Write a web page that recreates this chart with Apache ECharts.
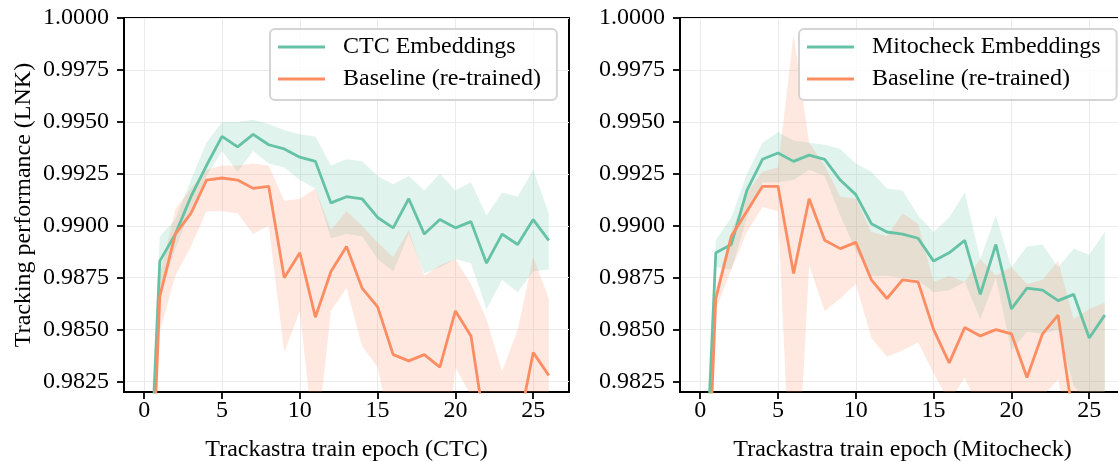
<!DOCTYPE html>
<html lang="en">
<head>
    <meta charset="UTF-8">
    <title>Tracking performance</title>
    <script src="https://cdn.jsdelivr.net/npm/echarts@6/dist/echarts.min.js"></script>
    <style>
        html, body { margin: 0; padding: 0; background: #fff; }
        #main { width: 1118px; height: 462px; }
    </style>
</head>
<body>
<div id="main"></div>
<script>
    var epochs = [0, 1, 2, 3, 4, 5, 6, 7, 8, 9, 10, 11, 12, 13, 14, 15, 16, 17, 18, 19, 20, 21, 22, 23, 24, 25, 26]
    var xTicks = [0, 5, 10, 15, 20, 25]
    var yTicks = [0.9825, 0.985, 0.9875, 0.99, 0.9925, 0.995, 0.9975, 1.0]

    // left panel: CTC
    var ctcMean = [0.9710, 0.9883, 0.9896, 0.9914, 0.9929, 0.9943, 0.9938, 0.9944, 0.9939, 0.9937, 0.9933, 0.9931, 0.9911, 0.9914, 0.9913, 0.9904, 0.9899, 0.9913, 0.9896, 0.9903, 0.9899, 0.9902, 0.9882, 0.9896, 0.9891, 0.9903, 0.9893]
    var ctcUpper = [0.9740, 0.9895, 0.9903, 0.9922, 0.9940, 0.9950, 0.9950, 0.9951, 0.9949, 0.9946, 0.9944, 0.9943, 0.9929, 0.9932, 0.9931, 0.9924, 0.9920, 0.9924, 0.9917, 0.9925, 0.9917, 0.9921, 0.9905, 0.9916, 0.9914, 0.9927, 0.9906]
    var ctcLower = [0.9680, 0.9866, 0.9889, 0.9908, 0.9924, 0.9936, 0.9926, 0.9936, 0.9930, 0.9928, 0.9922, 0.9918, 0.9894, 0.9896, 0.9895, 0.9884, 0.9878, 0.9896, 0.9877, 0.9880, 0.9884, 0.9882, 0.9860, 0.9874, 0.9868, 0.9878, 0.9879]
    var baseLMean = [0.9682, 0.9866, 0.9896, 0.9906, 0.9922, 0.9923, 0.9922, 0.9918, 0.9919, 0.9875, 0.9887, 0.9856, 0.9878, 0.9890, 0.9870, 0.9861, 0.9838, 0.9835, 0.9838, 0.9832, 0.9859, 0.9847, 0.9798, 0.9790, 0.9801, 0.9839, 0.9828]
    var baseLUpper = [0.9720, 0.9876, 0.9908, 0.9918, 0.9927, 0.9929, 0.9929, 0.9930, 0.9929, 0.9912, 0.9913, 0.9918, 0.9898, 0.9907, 0.9900, 0.9892, 0.9885, 0.9898, 0.9876, 0.9881, 0.9884, 0.9872, 0.9855, 0.9830, 0.9850, 0.9885, 0.9865]
    var baseLLower = [0.9640, 0.9849, 0.9876, 0.9890, 0.9907, 0.9907, 0.9906, 0.9896, 0.9900, 0.9839, 0.9859, 0.9790, 0.9859, 0.9870, 0.9842, 0.9832, 0.9795, 0.9790, 0.9790, 0.9760, 0.9832, 0.9818, 0.9770, 0.9760, 0.9770, 0.9790, 0.9780]

    // right panel: Mitocheck
    var mitoMean = [0.9715, 0.9887, 0.9891, 0.9917, 0.9932, 0.9935, 0.9931, 0.9934, 0.9932, 0.9922, 0.9915, 0.9901, 0.9897, 0.9896, 0.9894, 0.9883, 0.9887, 0.9893, 0.9867, 0.9891, 0.9860, 0.9870, 0.9869, 0.9864, 0.9867, 0.9846, 0.9857]
    var mitoUpper = [0.9750, 0.9893, 0.9904, 0.9925, 0.9940, 0.9945, 0.9941, 0.9940, 0.9939, 0.9937, 0.9930, 0.9926, 0.9918, 0.9917, 0.9905, 0.9897, 0.9904, 0.9916, 0.9884, 0.9905, 0.9880, 0.9890, 0.9891, 0.9880, 0.9889, 0.9886, 0.9897]
    var mitoLower = [0.9690, 0.9880, 0.9879, 0.9904, 0.9921, 0.9921, 0.9922, 0.9927, 0.9924, 0.9905, 0.9888, 0.9876, 0.9876, 0.9875, 0.9874, 0.9868, 0.9869, 0.9873, 0.9855, 0.9875, 0.9840, 0.9849, 0.9848, 0.9850, 0.9823, 0.9815, 0.9815]
    var baseRMean = [0.9678, 0.9865, 0.9895, 0.9907, 0.9919, 0.9919, 0.9877, 0.9913, 0.9893, 0.9889, 0.9892, 0.9874, 0.9865, 0.9874, 0.9873, 0.9850, 0.9834, 0.9851, 0.9847, 0.9850, 0.9848, 0.9827, 0.9848, 0.9857, 0.9806, 0.9790, 0.9785]
    var baseRUpper = [0.9720, 0.9870, 0.9897, 0.9916, 0.9926, 0.9928, 0.9992, 0.9940, 0.9929, 0.9914, 0.9913, 0.9897, 0.9895, 0.9906, 0.9901, 0.9873, 0.9876, 0.9873, 0.9884, 0.9876, 0.9880, 0.9872, 0.9874, 0.9883, 0.9855, 0.9860, 0.9863]
    var baseRLower = [0.9640, 0.9860, 0.9879, 0.9897, 0.9909, 0.9907, 0.9740, 0.9881, 0.9859, 0.9865, 0.9872, 0.9846, 0.9837, 0.9840, 0.9844, 0.9829, 0.9815, 0.9827, 0.9810, 0.9805, 0.9810, 0.9812, 0.9818, 0.9826, 0.9790, 0.9780, 0.9780]

    var GREEN = '#66c2a5'
    var ORANGE = '#fc8d62'
    var FONT = 'Liberation Serif'

    function pts(arr) {
        return arr.map(function (v, i) { return [epochs[i], v] })
    }

    // shaded band as one polygon: upper edge forward, lower edge back
    function band(idx, up, lo, color) {
        return {
            type: 'custom', xAxisIndex: idx, yAxisIndex: idx, silent: true, clip: true, z: 1,
            data: epochs.map(function (x, i) { return [x, lo[i], up[i]] }),
            encode: {x: 0, y: [1, 2]},
            renderItem: function (params, api) {
                if (params.dataIndex !== 0) return null
                var points = []
                for (var i = 0; i < epochs.length; i++) points.push(api.coord([epochs[i], up[i]]))
                for (var j = epochs.length - 1; j >= 0; j--) points.push(api.coord([epochs[j], lo[j]]))
                return {type: 'polygon', shape: {points: points}, style: {fill: color}}
            }
        }
    }
    function mean(idx, name, arr, color) {
        return {
            type: 'line', name: name, xAxisIndex: idx, yAxisIndex: idx, symbol: 'none', z: 3,
            color: color, lineStyle: {color: color, width: 2.8}, data: pts(arr)
        }
    }

    function xAxis(idx, title) {
        return {
            type: 'value', gridIndex: idx, min: -1.3, max: 27.3,
            name: title, nameLocation: 'middle', nameGap: 46,
            nameTextStyle: {fontFamily: FONT, fontSize: 24, color: '#000'},
            axisLine: {onZero: false, lineStyle: {color: '#000', width: 2}},
            axisTick: {customValues: xTicks, length: 7, lineStyle: {color: '#000', width: 1.8}},
            axisLabel: {customValues: xTicks, margin: 7, fontFamily: FONT, fontSize: 24, color: '#000'},
            splitLine: {show: true, lineStyle: {color: '#ebebeb', width: 1}}
        }
    }
    function yAxis(idx, title) {
        return {
            type: 'value', gridIndex: idx, min: 0.982, max: 1.0,
            name: title, nameLocation: 'middle', nameGap: 88,
            nameTextStyle: {fontFamily: FONT, fontSize: 24, color: '#000'},
            axisLine: {onZero: false, lineStyle: {color: '#000', width: 2}},
            axisTick: {customValues: yTicks, length: 7, lineStyle: {color: '#000', width: 1.8}},
            axisLabel: {
                customValues: yTicks, margin: 15, fontFamily: FONT, fontSize: 24, color: '#000',
                formatter: function (v) { return v.toFixed(4) }
            },
            splitLine: {show: true, lineStyle: {color: '#ebebeb', width: 1}}
        }
    }
    function legend(left, names) {
        return {
            left: left, top: 29, orient: 'vertical', data: names,
            icon: 'rect', itemWidth: 47, itemHeight: 3, itemGap: 8,
            padding: [6, 16, 9, 8],
            borderColor: '#d4d4d4', borderWidth: 2, borderRadius: 5,
            backgroundColor: 'rgba(255,255,255,0.8)',
            textStyle: {fontFamily: FONT, fontSize: 24, color: '#000', lineHeight: 24, padding: [0, 0, 0, 13]}
        }
    }

    var chart = echarts.init(document.getElementById('main'))
    var option = {
        animation: false,
        backgroundColor: '#fff',
        grid: [
            {left: 124, top: 18, width: 445, height: 374, outerBoundsMode: 'none', containLabel: false,
                show: true, borderColor: '#000', borderWidth: 2},
            {left: 680, top: 18, width: 445, height: 374, outerBoundsMode: 'none', containLabel: false,
                show: true, borderColor: '#000', borderWidth: 2}
        ],
        xAxis: [xAxis(0, 'Trackastra train epoch (CTC)'), xAxis(1, 'Trackastra train epoch (Mitocheck)')],
        yAxis: [yAxis(0, 'Tracking performance (LNK)'), yAxis(1, '')],
        legend: [
            legend(270, ['CTC Embeddings', 'Baseline (re-trained)']),
            legend(799, ['Mitocheck Embeddings', 'Baseline (re-trained) '])
        ],
        series: [
            band(0, ctcUpper, ctcLower, 'rgba(102,194,165,0.2)'),
            band(0, baseLUpper, baseLLower, 'rgba(252,141,98,0.2)'),
            band(1, mitoUpper, mitoLower, 'rgba(102,194,165,0.2)'),
            band(1, baseRUpper, baseRLower, 'rgba(252,141,98,0.2)'),
            mean(0, 'CTC Embeddings', ctcMean, GREEN),
            mean(0, 'Baseline (re-trained)', baseLMean, ORANGE),
            mean(1, 'Mitocheck Embeddings', mitoMean, GREEN),
            mean(1, 'Baseline (re-trained) ', baseRMean, ORANGE)
        ]
    }
    chart.setOption(option)
</script>
</body>
</html>
